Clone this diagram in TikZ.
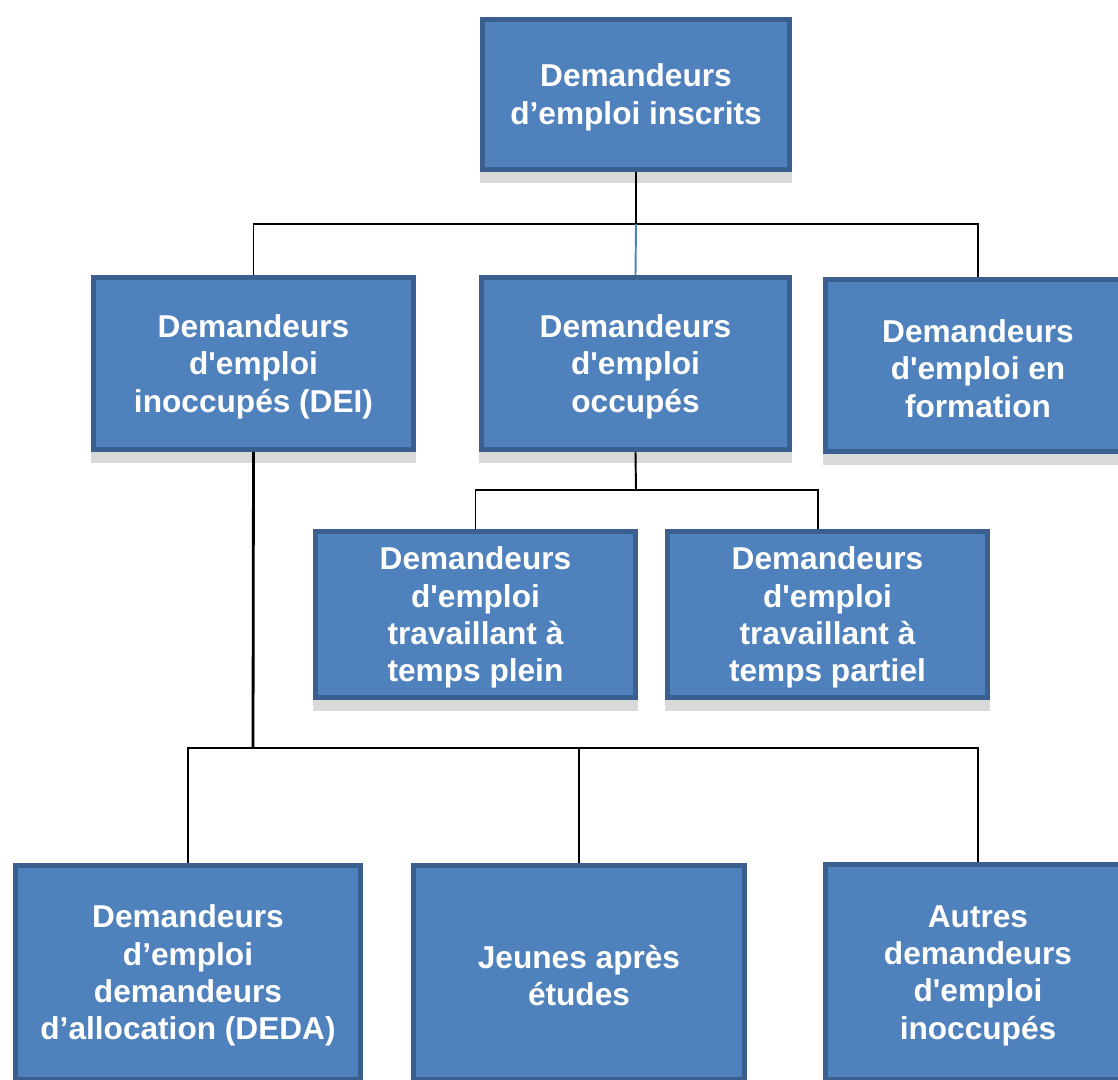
\documentclass[tikz,border=0pt]{standalone}
\usepackage{fontspec}
\setmainfont{Liberation Sans}
\usepackage{tikz}
\usetikzlibrary{calc}

\definecolor{boxfill}{HTML}{4F81BD}
\definecolor{boxline}{HTML}{3B5F8E}
\definecolor{boxshade}{HTML}{D9D9D9}
\newcommand{\apos}{\textquotesingle}
\newcommand{\lift}{\rule{0pt}{16.5pt}}

\begin{document}
\begin{tikzpicture}[
  cat/.style={draw=boxline, fill=boxfill, line width=0.1cm, inner sep=0pt,
    text=white, align=center, font=\bfseries\fontsize{18}{21.3}\selectfont},
  shade/.style={fill=boxshade},
  link/.style={line width=1.1pt, black},
  thicklink/.style={line width=1.6pt, black},
  bluelink/.style={line width=1.1pt, boxfill}]

\clip (0,0) rectangle (22.36,-21.6);

\node[cat, minimum width=6.14cm, minimum height=3.0cm] (inscrits) at (12.72,-1.89) {\lift Demandeurs\\d’emploi inscrits};

\node[cat, minimum width=6.4cm, minimum height=3.44cm] (dei) at (5.07,-7.27) {\lift Demandeurs\\d\apos emploi\\inoccupés (DEI)};
\node[cat, minimum width=6.16cm, minimum height=3.44cm] (occupes) at (12.71,-7.27) {\lift Demandeurs\\d\apos emploi\\occupés};
\node[cat, minimum width=6.1cm, minimum height=3.44cm] (formation) at (19.56,-7.31) {\lift Demandeurs\\d\apos emploi en\\formation};

\node[cat, minimum width=6.4cm, minimum height=3.32cm] (plein) at (9.51,-12.29) {\lift Demandeurs\\d\apos emploi\\travaillant à\\temps plein};
\node[cat, minimum width=6.4cm, minimum height=3.32cm] (partiel) at (16.55,-12.29) {\lift Demandeurs\\d\apos emploi\\travaillant à\\temps partiel};

\node[cat, minimum width=6.9cm, minimum height=4.28cm] (deda) at (3.76,-19.45) {\lift Demandeurs\\d’emploi\\demandeurs\\d’allocation (DEDA)};
\node[cat, minimum width=6.62cm, minimum height=4.28cm] (jeunes) at (11.58,-19.45) {\lift Jeunes après\\études};
\node[cat, minimum width=6.1cm, minimum height=4.3cm] (autres) at (19.56,-19.44) {\lift Autres\\demandeurs\\d\apos emploi\\inoccupés};

\foreach \b in {inscrits,dei,occupes,formation,plein,partiel}
  \fill[shade] (\b.south west) rectangle ([yshift=-0.22cm]\b.south east);

\coordinate (bar1) at (12.72,-4.48);
\coordinate (bar2) at (12.72,-9.8);
\coordinate (bar3) at (5.06,-14.96);

\draw[link] (inscrits.south) -- (bar1);
\draw[link] (dei.north) |- (bar1) -| (formation.north);
\draw[bluelink] (bar1) -- (occupes.north);

\draw[link] (occupes.south) -- (bar2);
\draw[link] (plein.north) |- (bar2) -| ([xshift=-0.19cm]partiel.north);

\draw[thicklink] (dei.south) -- (bar3);
\draw[link] (deda.north) |- (autres.north |- bar3) -- (autres.north);
\draw[link] (jeunes.north) -- (jeunes.north |- bar3);

\end{tikzpicture}
\end{document}
